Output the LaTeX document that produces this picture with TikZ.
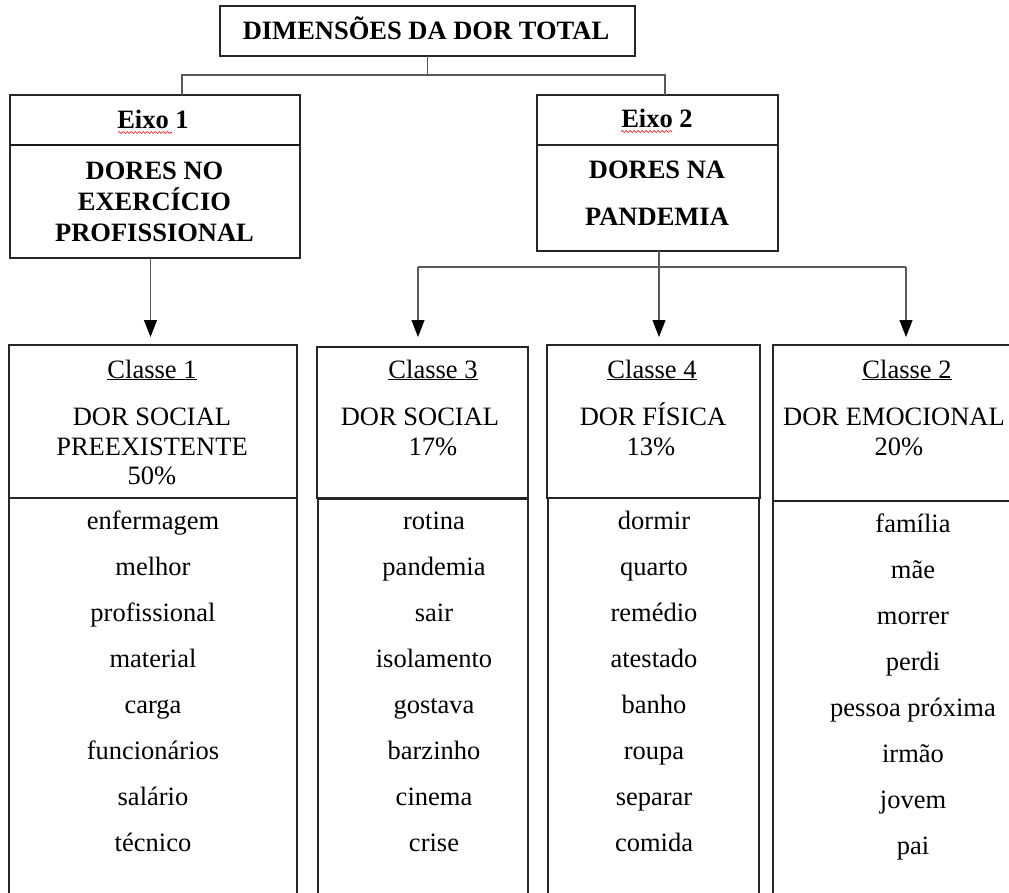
\documentclass[tikz,border=0pt]{standalone}
\usepackage{fontspec}
\setmainfont{Liberation Serif}
\usetikzlibrary{arrows.meta,decorations.pathmorphing}
\begin{document}
\begin{tikzpicture}[x=1pt,y=-1pt,
  box/.style={draw=black!85, line width=1.1pt, inner sep=0pt, outer sep=0pt, anchor=north west},
  conn/.style={draw=black!65, line width=1.1pt},
  arr/.style={conn, -{Triangle[width=13pt,length=17pt,color=black]}},
  txt/.style={anchor=base, inner sep=0pt, font=\fontsize{26.5}{30}\selectfont},
  btxt/.style={anchor=base, inner sep=0pt, font=\fontsize{26.5}{30}\selectfont\bfseries},
  wave/.style={draw=red!90!black, line width=0.6pt, decorate, decoration={snake, segment length=4pt, amplitude=1pt}}]
\useasboundingbox (0,0) rectangle (1009,893);
\clip (0,0) rectangle (1009,893);

% boxes
\node[box, minimum width=415pt, minimum height=50pt] (title) at (220,6) {};
\node[box, minimum width=290pt, minimum height=50pt] (e1h) at (10,95) {};
\node[box, minimum width=290pt, minimum height=113pt] (e1b) at (10,145) {};
\draw[line width=2.2pt, black!90] (e1h.south west) -- (e1h.south east);
\node[box, minimum width=241pt, minimum height=50pt] (e2h) at (537,95) {};
\node[box, minimum width=241pt, minimum height=106pt] (e2b) at (537,145) {};

\node[box, minimum width=288pt, minimum height=153pt] (c1h) at (9,345) {};
\node[box, minimum width=288pt, minimum height=420pt] (c1b) at (9,498) {};
\node[box, minimum width=211pt, minimum height=151pt] (c3h) at (317,347) {};
\node[box, minimum width=210pt, minimum height=420pt] (c3b) at (318,499) {};
\node[box, minimum width=213pt, minimum height=153pt] (c4h) at (547,345) {};
\node[box, minimum width=211pt, minimum height=420pt] (c4b) at (548,498) {};
\node[box, minimum width=260pt, minimum height=156pt] (c2h) at (773,345) {};
\node[box, minimum width=260pt, minimum height=420pt] (c2b) at (773,501) {};

% connectors
\coordinate (ja) at (182,75);
\coordinate (jb) at (665,75);
\draw[conn] (title.south) -- (title.south |- ja);
\draw[conn] (e1h.north -| ja) -- (ja) -- (jb) -- (e2h.north -| jb);

\coordinate (t1) at (150.5,337);
\draw[arr] (e1b.south -| t1) -- (t1);

\coordinate (jc) at (659,267);
\coordinate (t3) at (418,337);
\coordinate (t4) at (659,337);
\coordinate (t2) at (906,337);
\draw[conn] (e2b.south -| jc) -- (jc);
\draw[conn] (jc -| t3) -- (jc -| t2);
\draw[arr] (jc -| t3) -- (t3);
\draw[arr] (jc) -- (t4);
\draw[arr] (jc -| t2) -- (t2);

% titles
\node[btxt] (tt) at (426,40) {DIMENSÕES DA DOR TOTAL};
\node[btxt] (e1t) at (153,129) {Eixo 1};
\draw[wave] (118,132.5) -- (172,132.5);
\node[btxt] (e1a) at (154.5,180) {DORES NO};
\node[btxt] (e1c) at (154.5,211) {EXERCÍCIO};
\node[btxt] (e1d) at (154.5,242) {PROFISSIONAL};
\node[btxt] (e2t) at (657,128) {Eixo 2};
\draw[wave] (621,131.5) -- (672,131.5);
\node[btxt] (e2a) at (657,179) {DORES NA};
\node[btxt] (e2c) at (657,226) {PANDEMIA};

% class headers
\node[txt] (c1t) at (152,378) {\underline{Classe 1}};
\node[txt] (c1a) at (152,425) {DOR SOCIAL};
\node[txt] (c1c) at (152,455) {PREEXISTENTE};
\node[txt] (c1p) at (152,484) {50\%};

\node[txt] (c3t) at (433,378) {\underline{Classe 3}};
\node[txt] (c3a) at (420,425) {DOR SOCIAL};
\node[txt] (c3p) at (433,455) {17\%};

\node[txt] (c4t) at (652,378) {\underline{Classe 4}};
\node[txt] (c4a) at (653,425) {DOR FÍSICA};
\node[txt] (c4p) at (651,455) {13\%};

\node[txt] (c2t) at (907,378) {\underline{Classe 2}};
\node[txt] (c2a) at (894,425) {DOR EMOCIONAL};
\node[txt] (c2p) at (899,455) {20\%};

% word lists
\foreach \w [count=\i from 0] in {enfermagem,melhor,profissional,material,carga,funcionários,salário,técnico}
  \node[txt] (c1w\i) at (153,{529+46*\i}) {\w};
\foreach \w [count=\i from 0] in {rotina,pandemia,sair,isolamento,gostava,barzinho,cinema,crise}
  \node[txt] (c3w\i) at (434,{529+46*\i}) {\w};
\foreach \w [count=\i from 0] in {dormir,quarto,remédio,atestado,banho,roupa,separar,comida}
  \node[txt] (c4w\i) at (654,{529+46*\i}) {\w};
\foreach \w [count=\i from 0] in {família,mãe,morrer,perdi,pessoa próxima,irmão,jovem,pai}
  \node[txt] (c2w\i) at (913,{532+46*\i}) {\w};
\end{tikzpicture}
\end{document}
